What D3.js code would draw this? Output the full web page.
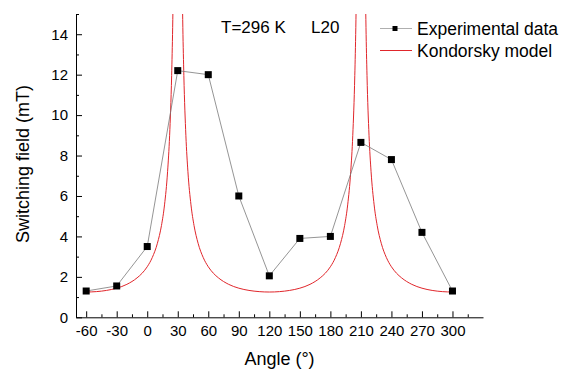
<!DOCTYPE html>
<html>
<head>
<meta charset="utf-8">
<script src="https://cdn.jsdelivr.net/npm/d3@7"></script>
<style>
  body { margin: 0; background: #fff; }
  svg { display: block; font-family: "Liberation Sans", Arial, sans-serif; }
</style>
</head>
<body>
<div id="chart"></div>
<script>
// Measured switching field vs. field angle
const angles = [-60, -30, 0, 30, 60, 90, 120, 150, 180, 210, 240, 270, 300];
const switchingField = [1.3, 1.55, 3.5, 12.2, 12.0, 6.0, 2.05, 3.9, 4.0, 8.65, 7.8, 4.2, 1.3];

// Kondorsky curve, sampled; null marks the breaks at the hard-axis asymptotes
const modelAngles = [
  -60, -50, -40, -30, -20, -10, -5, 0, 5, 10, 14, 17, 20, 22, 24, 25, 26,
  30,
  34, 35, 36, 38, 40, 43, 46, 50, 55, 60, 65, 70, 80, 90, 100, 110, 120,
  130, 140, 150, 160, 170, 175, 180, 185, 190, 194, 197, 200, 202, 204, 205, 206,
  210,
  214, 215, 216, 218, 220, 223, 226, 230, 235, 240, 245, 250, 260, 270, 280, 290, 300
];
const modelField = [
  1.25, 1.27, 1.33, 1.44, 1.63, 1.95, 2.18, 2.50, 2.96, 3.66, 4.54, 5.56, 7.20, 8.98, 11.96, 14.34, 17.92,
  null,
  17.92, 14.34, 11.96, 8.98, 7.20, 5.56, 4.54, 3.66, 2.96, 2.50, 2.18, 1.95, 1.63, 1.44, 1.33, 1.27, 1.25,
  1.27, 1.33, 1.44, 1.63, 1.95, 2.18, 2.50, 2.96, 3.66, 4.54, 5.56, 7.20, 8.98, 11.96, 14.34, 17.92,
  null,
  17.92, 14.34, 11.96, 8.98, 7.20, 5.56, 4.54, 3.66, 2.96, 2.50, 2.18, 1.95, 1.63, 1.44, 1.33, 1.27, 1.25
];

const xMajor = d3.range(-60, 301, 30);
const xMinor = d3.range(-45, 316, 30);
const yMajor = d3.range(0, 15, 2);
const yMinor = d3.range(1, 16, 2);

const legendLabels = ["Experimental data", "Kondorsky model"];
const titleParts = ["T=296 K", "L20"];

const width = 564, height = 369;
const m = {left: 76, right: 483, top: 14, bottom: 317.3};

const x = d3.scaleLinear().domain([-70, 330]).range([m.left, m.right]);
const y = d3.scaleLinear().domain([0, 15]).range([m.bottom, m.top]);

const svg = d3.select("#chart").append("svg")
    .attr("width", width)
    .attr("height", height);

svg.append("rect").attr("width", width).attr("height", height).attr("fill", "#fff");

svg.append("defs").append("clipPath")
    .attr("id", "plotClip")
  .append("rect")
    .attr("x", m.left)
    .attr("y", m.top)
    .attr("width", m.right - m.left)
    .attr("height", m.bottom - m.top);

// model curve
const model = modelAngles.map((a, i) => ({a, h: modelField[i]}));
svg.append("path")
    .datum(model)
    .attr("clip-path", "url(#plotClip)")
    .attr("fill", "none")
    .attr("stroke", "#e0262b")
    .attr("stroke-width", 1)
    .attr("d", d3.line()
      .defined(d => d.h != null)
      .curve(d3.curveMonotoneX)
      .x(d => x(d.a))
      .y(d => y(d.h)));

// experimental points
const pts = angles.map((a, i) => ({a, h: switchingField[i]}));
svg.append("path")
    .datum(pts)
    .attr("fill", "none")
    .attr("stroke", "#7a7a7a")
    .attr("stroke-width", 0.8)
    .attr("d", d3.line().x(d => x(d.a)).y(d => y(d.h)));

const ms = 7;
svg.append("g")
  .selectAll("rect")
  .data(pts)
  .join("rect")
    .attr("x", d => x(d.a) - ms / 2)
    .attr("y", d => y(d.h) - ms / 2)
    .attr("width", ms)
    .attr("height", ms)
    .attr("fill", "#000");

// axes, ticks pointing inward
const fmt = d => String(d);

svg.append("g").attr("transform", `translate(0,${m.bottom})`)
    .call(d3.axisBottom(x).tickValues(xMajor).tickFormat(fmt)
      .tickSizeInner(-6).tickSizeOuter(0).tickPadding(8));
svg.append("g").attr("transform", `translate(0,${m.bottom})`)
    .call(d3.axisBottom(x).tickValues(xMinor).tickFormat("")
      .tickSizeInner(-3).tickSizeOuter(0))
    .select(".domain").remove();

svg.append("g").attr("transform", `translate(${m.left},0)`)
    .call(d3.axisLeft(y).tickValues(yMajor).tickFormat(fmt)
      .tickSizeInner(-6).tickSizeOuter(0).tickPadding(8));
svg.append("g").attr("transform", `translate(${m.left},0)`)
    .call(d3.axisLeft(y).tickValues(yMinor).tickFormat("")
      .tickSizeInner(-3).tickSizeOuter(0))
    .select(".domain").remove();

svg.selectAll(".tick text")
    .attr("font-size", 15)
    .attr("font-family", "Liberation Sans, Arial, sans-serif")
    .attr("fill", "#000");
svg.selectAll(".domain, .tick line").attr("stroke", "#000");

// axis titles
svg.append("text")
    .attr("x", (m.left + m.right) / 2)
    .attr("y", 365)
    .attr("text-anchor", "middle")
    .attr("font-size", 18)
    .text("Angle (°)");

svg.append("text")
    .attr("transform", `translate(29,164) rotate(-90)`)
    .attr("text-anchor", "middle")
    .attr("font-size", 18)
    .text("Switching field (mT)");

// sample label
svg.append("text").attr("x", 221).attr("y", 33).attr("font-size", 17).text(titleParts[0]);
svg.append("text").attr("x", 311).attr("y", 33).attr("font-size", 17).text(titleParts[1]);

// legend
const lg = svg.append("g");
lg.append("line").attr("x1", 380).attr("x2", 412).attr("y1", 28.5).attr("y2", 28.5)
    .attr("stroke", "#9a9a9a").attr("stroke-width", 0.8);
lg.append("rect").attr("x", 392.5).attr("y", 26).attr("width", 5).attr("height", 5).attr("fill", "#000");
lg.append("line").attr("x1", 380).attr("x2", 412).attr("y1", 50.5).attr("y2", 50.5)
    .attr("stroke", "#e0262b").attr("stroke-width", 1);
lg.selectAll("text")
  .data(legendLabels)
  .join("text")
    .attr("x", 417)
    .attr("y", (d, i) => 34.5 + i * 22)
    .attr("font-size", 17.5)
    .text(d => d);
</script>
</body>
</html>
